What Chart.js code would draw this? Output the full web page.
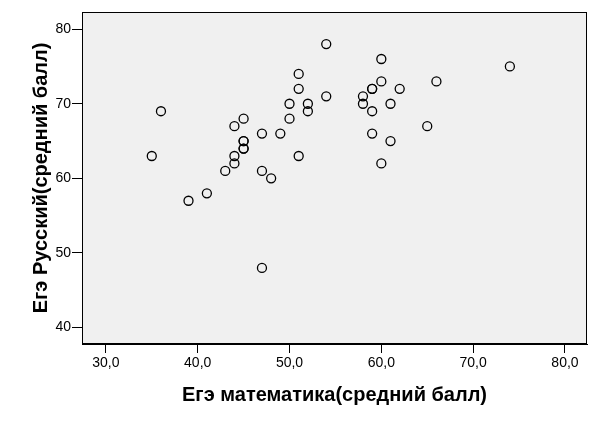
<!DOCTYPE html>
<html>
<head>
<meta charset="utf-8">
<script src="https://cdn.jsdelivr.net/npm/chart.js@4/dist/chart.umd.min.js"></script>
<style>
  html, body { margin: 0; padding: 0; background: #fff; }
  #wrap { width: 598px; height: 424px; }
</style>
</head>
<body>
<div id="wrap"><canvas id="myChart" width="598" height="424"></canvas></div>
<script>
// Егэ математика (x) vs Егэ Русский (y), средний балл по школам
const mathScores = [54, 51, 51, 54, 50, 52, 52, 36, 45, 50, 44, 47, 49, 45, 45, 45, 45, 35, 44, 51, 44, 43, 47, 48,
                    39, 41, 47,
                    60, 74, 60, 66, 59, 59, 62, 58, 58, 61, 59, 65, 59, 61, 60];
const russianScores = [78, 74, 72, 71, 70, 70, 69, 69, 68, 68, 67, 66, 66, 65, 65, 64, 64, 63, 63, 63, 62, 61, 61, 60,
                       57, 58, 48,
                       76, 75, 73, 73, 72, 72, 72, 71, 70, 70, 69, 67, 66, 65, 62];
const xTicks = [30, 40, 50, 60, 70, 80];
const yTicks = [40, 50, 60, 70, 80];

const points = mathScores.map((x, i) => ({ x: x, y: russianScores[i] }));

const plotBg = {
  id: 'plotBg',
  beforeDraw(chart) {
    const { ctx, chartArea: a } = chart;
    ctx.save();
    ctx.fillStyle = '#f0f0f0';
    ctx.fillRect(a.left, a.top, a.right - a.left, a.bottom - a.top);
    ctx.restore();
  },
  afterDraw(chart) {
    const { ctx, chartArea: a } = chart;
    ctx.save();
    ctx.strokeStyle = '#000';
    ctx.lineWidth = 1;
    ctx.strokeRect(Math.round(a.left) + 0.5, Math.round(a.top) + 0.5,
                   Math.round(a.right - a.left) - 1, Math.round(a.bottom - a.top) - 1);
    ctx.restore();
  }
};

const tickFont = { family: 'Liberation Sans, Arial, sans-serif', size: 14 };
const titleFont = { family: 'Liberation Sans, Arial, sans-serif', size: 20, weight: 'bold' };

new Chart(document.getElementById('myChart').getContext('2d'), {
  type: 'scatter',
  data: {
    datasets: [{
      label: 'Егэ',
      data: points,
      pointRadius: 4.5,
      pointHoverRadius: 4.5,
      pointBorderWidth: 1.3,
      borderColor: '#000',
      backgroundColor: 'rgba(0,0,0,0)'
    }]
  },
  options: {
    responsive: false,
    animation: false,
    devicePixelRatio: 1,
    layout: { padding: { left: 0, top: 12, right: 11, bottom: 0 } },
    plugins: { legend: { display: false }, tooltip: { enabled: false } },
    scales: {
      x: {
        type: 'linear',
        min: 27.4,
        max: 82.4,
        afterBuildTicks: s => { s.ticks = xTicks.map(v => ({ value: v })); },
        afterFit: s => { s.height = 80; },
        ticks: {
          color: '#000',
          font: tickFont,
          padding: 2,
          autoSkip: false,
          maxRotation: 0,
          callback: v => v.toFixed(1).replace('.', ',')
        },
        grid: { drawOnChartArea: false, drawTicks: true, tickLength: 9, color: '#000', lineWidth: 1 },
        border: { display: true, color: '#000' },
        title: {
          display: true,
          text: 'Егэ математика(средний балл)',
          color: '#000',
          font: titleFont,
          padding: { top: 0, bottom: 17 }
        }
      },
      y: {
        type: 'linear',
        min: 37.8,
        max: 82.3,
        afterBuildTicks: s => { s.ticks = yTicks.map(v => ({ value: v })); },
        afterFit: s => { s.width = 82; },
        ticks: { color: '#000', font: tickFont, padding: 1, autoSkip: false },
        grid: { drawOnChartArea: false, drawTicks: true, tickLength: 10, color: '#000', lineWidth: 1 },
        border: { display: true, color: '#000' },
        title: {
          display: true,
          text: 'Егэ Русский(средний балл)',
          color: '#000',
          font: titleFont,
          padding: { top: 29, bottom: 0 }
        }
      }
    }
  },
  plugins: [plotBg]
});
</script>
</body>
</html>
